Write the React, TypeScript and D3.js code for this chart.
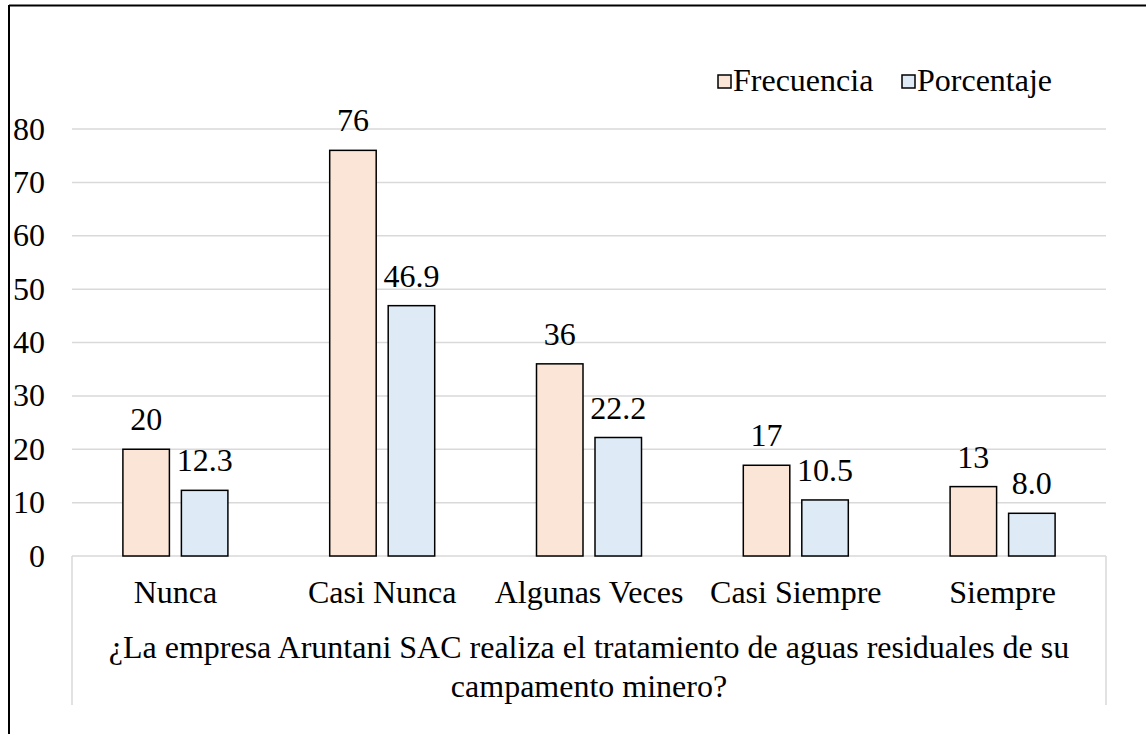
import React from "react";
import * as d3 from "d3";

const categories = ["Nunca", "Casi Nunca", "Algunas Veces", "Casi Siempre", "Siempre"];
const frecuencia = [20, 76, 36, 17, 13];
const porcentaje = [12.3, 46.9, 22.2, 10.5, 8.0];
const yTicks = [0, 10, 20, 30, 40, 50, 60, 70, 80];
const seriesNames = ["Frecuencia", "Porcentaje"];
const titleLines = [
  "¿La empresa Aruntani SAC realiza el tratamiento de aguas residuales de su",
  "campamento minero?",
];

const width = 1146;
const height = 734;
const left = 72;
const right = 1106;
const top = 129;
const bottom = 556;
const font = "'Liberation Serif', 'DejaVu Serif', 'Times New Roman', Times, serif";
const fontSize = 32;
const colors = ["#FBE5D6", "#DEEBF7"];
const grid = "#d9d9d9";

export default function App() {
  const y = d3.scaleLinear().domain([0, 80]).range([bottom, top]);
  const x0 = d3.scaleBand().domain(categories).range([left, right]);
  const barW = 46.5;
  const gap = 12;

  const series = [frecuencia, porcentaje];
  const fmt = [(v: number) => d3.format("d")(v), (v: number) => d3.format(".1f")(v)];

  return (
    <svg
      width={width}
      height={height}
      style={{ position: "absolute", left: 0, top: 0, background: "#fff", fontFamily: font }}
    >
      {/* outer frame (only top + left visible) */}
      <line x1={9} y1={5.5} x2={width} y2={5.5} stroke="#000" strokeWidth={2} />
      <line x1={9} y1={5} x2={9} y2={height} stroke="#000" strokeWidth={2} />

      {/* gridlines */}
      {yTicks.map((t) => (
        <line key={t} x1={left} x2={right} y1={y(t)} y2={y(t)} stroke={grid} strokeWidth={1.5} />
      ))}

      {/* category axis box */}
      <line x1={left} x2={left} y1={bottom} y2={705} stroke={grid} strokeWidth={1.5} />
      <line x1={right} x2={right} y1={bottom} y2={705} stroke={grid} strokeWidth={1.5} />

      {/* y labels */}
      {yTicks.map((t) => (
        <text key={t} x={45} y={y(t)} dy="0.33em" textAnchor="end" fontSize={fontSize} fill="#000">
          {t}
        </text>
      ))}

      {/* bars */}
      {categories.map((c, i) => {
        const cx = (x0(c) as number) + x0.bandwidth() / 2;
        return series.map((s, k) => {
          const bx = k === 0 ? cx - gap / 2 - barW : cx + gap / 2;
          const v = s[i];
          return (
            <g key={c + k}>
              <rect
                x={bx}
                y={y(v)}
                width={barW}
                height={bottom - y(v)}
                fill={colors[k]}
                stroke="#000"
                strokeWidth={1.5}
              />
              <text
                x={bx + barW / 2}
                y={y(v) - 19}
                textAnchor="middle"
                fontSize={fontSize}
                fill="#000"
              >
                {fmt[k](v)}
              </text>
            </g>
          );
        });
      })}

      {/* category labels */}
      {categories.map((c) => (
        <text
          key={c}
          x={(x0(c) as number) + x0.bandwidth() / 2}
          y={603}
          textAnchor="middle"
          fontSize={fontSize}
          fill="#000"
        >
          {c}
        </text>
      ))}

      {/* axis title */}
      {titleLines.map((l, i) => (
        <text
          key={i}
          x={(left + right) / 2}
          y={658 + i * 39}
          textAnchor="middle"
          fontSize={fontSize}
          fill="#000"
        >
          {l}
        </text>
      ))}

      {/* legend */}
      {seriesNames.map((n, k) => {
        const lx = k === 0 ? 718 : 902;
        return (
          <g key={n}>
            <rect x={lx} y={75} width={13} height={13} fill={colors[k]} stroke="#000" strokeWidth={1.5} />
            <text x={lx + 15} y={91} fontSize={fontSize} fill="#000">
              {n}
            </text>
          </g>
        );
      })}
    </svg>
  );
}
